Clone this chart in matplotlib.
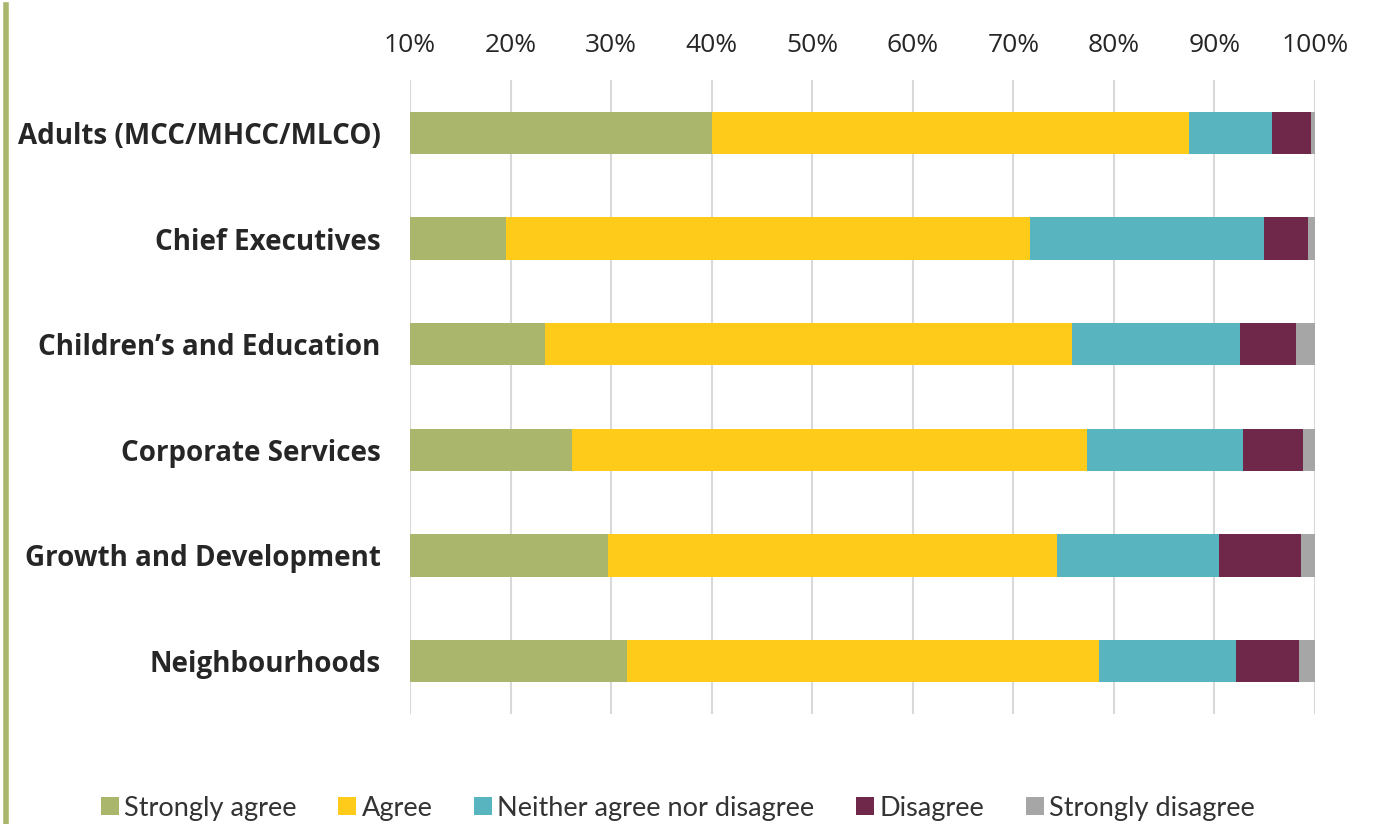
import numpy as np
import matplotlib
matplotlib.use("Agg")
import matplotlib.pyplot as plt
from matplotlib.patches import Patch
from matplotlib.lines import Line2D

# Directorates, top to bottom
directorates = [
    "Adults (MCC/MHCC/MLCO)",
    "Chief Executives",
    "Children\u2019s and Education",
    "Corporate Services",
    "Growth and Development",
    "Neighbourhoods",
]

# Response shares (%)
strongly_agree    = [40.0, 19.6, 23.4, 26.1, 29.7, 31.6]
agree             = [47.5, 52.1, 52.4, 51.2, 44.6, 46.9]
neither           = [8.2, 23.2, 16.7, 15.5, 16.2, 13.6]
disagree          = [3.9, 4.4, 5.6, 6.0, 8.1, 6.3]
strongly_disagree = [0.4, 0.7, 1.9, 1.2, 1.4, 1.6]

series_names  = ["Strongly agree", "Agree", "Neither agree nor disagree",
                 "Disagree", "Strongly disagree"]
series_colors = ["#aab66b", "#fecb1a", "#58b5c0", "#70284a", "#a6a6a6"]

series = [strongly_agree, agree, neither, disagree, strongly_disagree]

fig = plt.figure(figsize=(13.78, 8.24), dpi=100)
ax = fig.add_axes([0.2975, 0.1335, 0.6568, 0.7694])

y = np.arange(len(directorates))
left = np.zeros(len(directorates))
for vals, name, col in zip(series, series_names, series_colors):
    ax.barh(y, vals, left=left, height=0.4, color=col, label=name, zorder=3)
    left += np.array(vals)

ax.set_xlim(10, 100)
ax.set_ylim(len(directorates) - 0.5, -0.5)
ax.set_xticks(np.arange(10, 101, 10))
ax.set_xticklabels([f"{v}%" for v in range(10, 101, 10)],
                   fontsize=19, fontfamily="Open Sans", color="#262626")
ax.xaxis.tick_top()
ax.tick_params(axis="x", length=0, pad=16)
ax.set_yticks(y)
ax.set_yticklabels(directorates, fontsize=20, fontweight="bold",
                   fontfamily="Open Sans", color="#262626")
ax.tick_params(axis="y", length=0, pad=21)
ax.grid(axis="x", color="#d9d9d9", linewidth=1.5, zorder=0)
for s in ax.spines.values():
    s.set_visible(False)

# green rule down the left edge
fig.add_artist(Line2D([0.0044, 0.0044], [0.0, 0.994], color="#aab66b",
                      linewidth=4, transform=fig.transFigure))

handles = [Patch(facecolor=c, label=n) for n, c in zip(series_names, series_colors)]
fig.legend(handles=handles, loc="center", bbox_to_anchor=(0.492, 0.019), ncol=5,
           frameon=False, prop={"family": "Lato", "size": 19.5},
           handlelength=0.65, handleheight=0.65, handletextpad=0.2,
           columnspacing=1.55, labelcolor="#333333")

fig.savefig("out.png", dpi=100)
